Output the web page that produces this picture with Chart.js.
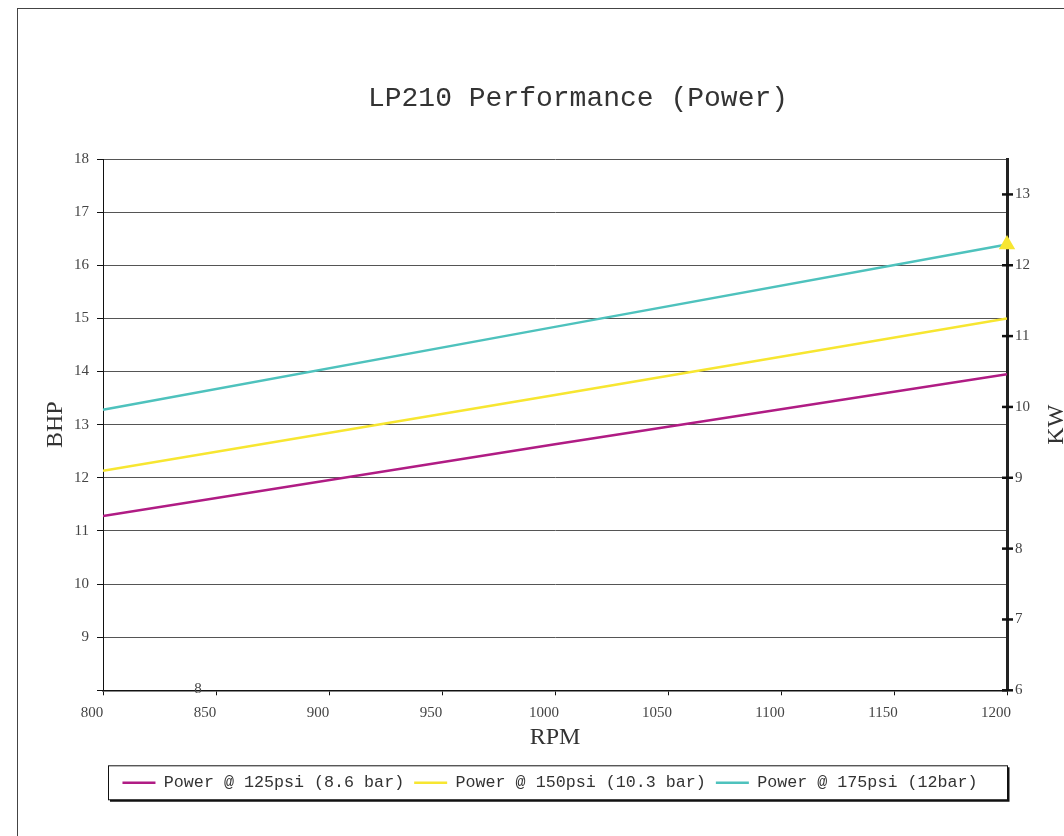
<!DOCTYPE html>
<html>
<head>
<meta charset="utf-8">
<script src="https://cdn.jsdelivr.net/npm/chart.js@4"></script>
<style>
html, body { margin: 0; padding: 0; background: #fff; overflow: hidden; }
#frame { position: absolute; left: 17px; top: 8px; width: 1200px; height: 1000px; border: 1px solid #444; }
#wrap { position: absolute; left: 0; top: 0; width: 1064px; height: 836px; }
</style>
</head>
<body>
<div id="frame"></div>
<div id="wrap"><canvas id="power-chart"></canvas></div>
<script>
var chartTitle = "LP210 Performance (Power)";
var rpm = [800, 1000, 1200];                 // x values of the points
var power125 = [11.28, 12.63, 13.95];        // BHP @ 125psi
var power150 = [12.13, 13.56, 15.0];         // BHP @ 150psi
var power175 = [13.28, 14.84, 16.39];        // BHP @ 175psi
var seriesLabels = ["Power @ 125psi (8.6 bar)", "Power @ 150psi (10.3 bar)", "Power @ 175psi (12bar)"];
var seriesColors = ["#B01C84", "#F7E631", "#4EC2BD"];
var rpmRange = [800, 1200];
var bhpRange = [8, 18];
var kwRange = [6, 13.5];
var kwTitle = "KW";

var tickFont = { family: "'Liberation Serif', serif", size: 15 };
var axisTitleFont = { family: "'Liberation Serif', serif", size: 24 };

function points(values) {
    return rpm.map(function (x, i) { return { x: x, y: values[i] }; });
}

// last point of the 175psi line gets the yellow triangle
function endColor(c) {
    return c.dataIndex === rpm.length - 1 ? seriesColors[1] : seriesColors[2];
}

// title, stray "8" label, KW title, crossing KW ticks and the framed legend box
var extras = {
    id: "extras",
    afterDraw: function (chart) {
        var ctx = chart.ctx, area = chart.chartArea;
        var y = chart.scales.y, kw = chart.scales.y1, lg = chart.legend;
        ctx.save();
        ctx.fillStyle = "#333";
        ctx.textAlign = "center";
        ctx.textBaseline = "middle";
        ctx.font = "28px 'Liberation Mono'";
        ctx.fillText(chartTitle, (area.left + area.right) / 2 + 23, area.top - 60);

        ctx.fillStyle = "#444";
        ctx.font = "15px 'Liberation Serif'";
        ctx.fillText("8", chart.scales.x.getPixelForValue(842), y.getPixelForValue(8) - 1);

        ctx.strokeStyle = "#111";
        ctx.lineWidth = 2.5;
        kw.ticks.forEach(function (t) {
            var py = kw.getPixelForValue(t.value);
            ctx.beginPath();
            ctx.moveTo(kw.left - 5, py);
            ctx.lineTo(kw.left + 6, py);
            ctx.stroke();
        });

        // legend frame with shadow
        var x0 = area.left + 5, x1 = area.right, y0 = lg.top + 1, y1 = y0 + 34;
        ctx.lineWidth = 1;
        ctx.strokeRect(x0 + 0.5, y0 + 0.5, x1 - x0, y1 - y0);
        ctx.lineWidth = 2;
        ctx.beginPath();
        ctx.moveTo(x0 + 2, y1 + 1.5);
        ctx.lineTo(x1 + 1.5, y1 + 1.5);
        ctx.lineTo(x1 + 1.5, y0 + 2);
        ctx.stroke();

        ctx.font = "24px 'Liberation Serif'";
        ctx.fillStyle = "#333";
        ctx.translate(kw.right - 7, (area.top + area.bottom) / 2);
        ctx.rotate(-Math.PI / 2);
        ctx.fillText(kwTitle, 0, 0);
        ctx.restore();
    }
};

var config = {
    type: "line",
    data: {
        datasets: [{
            label: seriesLabels[0],
            data: points(power125),
            borderColor: seriesColors[0],
            backgroundColor: seriesColors[0],
            borderWidth: 2.5,
            pointRadius: 0
        }, {
            label: seriesLabels[1],
            data: points(power150),
            borderColor: seriesColors[1],
            backgroundColor: seriesColors[1],
            borderWidth: 2.5,
            pointRadius: 0
        }, {
            label: seriesLabels[2],
            data: points(power175),
            borderColor: seriesColors[2],
            backgroundColor: seriesColors[2],
            borderWidth: 2.5,
            clip: false,
            pointStyle: "triangle",
            pointRadius: function (c) { return c.dataIndex === rpm.length - 1 ? 7 : 0; },
            pointBackgroundColor: endColor,
            pointBorderColor: endColor
        }]
    },
    options: {
        responsive: true,
        maintainAspectRatio: false,
        animation: false,
        layout: { padding: { left: 36, right: 0, top: 159, bottom: 35 } },
        plugins: {
            title: { display: false },
            legend: {
                position: "bottom",
                labels: {
                    usePointStyle: true,
                    pointStyle: "line",
                    pointStyleWidth: 33,
                    padding: 10,
                    color: "#333",
                    font: { family: "'Liberation Mono', monospace", size: 16.7 }
                }
            },
            tooltip: { enabled: false }
        },
        scales: {
            x: {
                type: "linear",
                min: rpmRange[0],
                max: rpmRange[1],
                ticks: {
                    stepSize: 50, padding: 9, labelOffset: -11, color: "#444", font: tickFont,
                    callback: function (v) { return String(v); }
                },
                grid: { drawOnChartArea: false, drawTicks: true, tickLength: 5, color: "#111" },
                border: { color: "#111", width: 1.5 },
                title: { display: true, text: "RPM", color: "#333", font: axisTitleFont, padding: { top: 0, bottom: 12 } },
                afterFit: function (s) { s.height = 74; }
            },
            y: {
                position: "left",
                min: bhpRange[0],
                max: bhpRange[1],
                ticks: {
                    stepSize: 1, padding: 8, color: "#444", font: tickFont,
                    callback: function (v) { return v === bhpRange[0] ? "" : String(v); }
                },
                grid: { color: "#555", tickColor: "#111", tickLength: 6 },
                border: { color: "#111", width: 1 },
                title: { display: true, text: "BHP", color: "#333", font: axisTitleFont, padding: { top: 5, bottom: 0 } },
                afterFit: function (s) { s.width = 67; }
            },
            y1: {
                position: "right",
                min: kwRange[0],
                max: kwRange[1],
                afterBuildTicks: function (s) {
                    s.ticks = s.ticks.filter(function (t) { return Number.isInteger(t.value); });
                },
                ticks: { stepSize: 1, padding: 0, color: "#444", font: tickFont },
                grid: { display: false },
                border: { color: "#222", width: 3 },
                afterFit: function (s) { s.width = 57; }
            }
        }
    },
    plugins: [extras]
};

var powerChart = new Chart(document.getElementById("power-chart"), config);
</script>
</body>
</html>
